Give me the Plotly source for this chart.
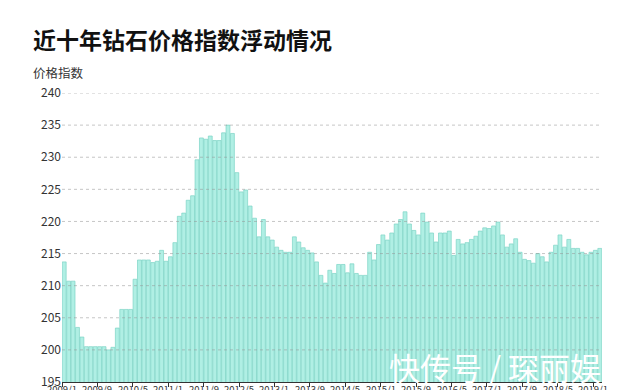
import plotly.graph_objects as go

# monthly diamond price index
values = [
    213.7, 210.7, 210.7, 203.5, 202.0, 200.5, 200.5, 200.5, 200.5, 200.5,
    200.0, 200.4, 203.4, 206.3, 206.3, 206.3, 211.0, 214.0, 214.0, 214.0,
    213.6, 213.8, 215.5, 213.8, 214.5, 216.7, 220.8, 221.3, 223.3, 224.0,
    229.6, 233.0, 232.8, 233.3, 232.6, 232.6, 233.8, 235.0, 233.7, 227.6,
    224.6, 224.9, 222.4, 220.5, 217.6, 220.3, 217.6, 217.1, 216.0, 215.5,
    215.2, 215.2, 217.6, 216.8, 215.9, 215.5, 215.1, 213.7, 211.6, 210.4,
    212.4, 211.9, 213.3, 213.3, 212.0, 213.4, 211.9, 211.6, 211.6, 215.2,
    214.0, 216.4, 217.9, 217.1, 218.2, 219.6, 220.3, 221.5, 219.6, 218.6,
    217.9, 221.3, 219.9, 218.2, 216.8, 218.2, 218.2, 218.5, 214.7, 217.2,
    216.5, 216.7, 217.2, 217.7, 218.5, 219.0, 218.9, 219.3, 219.9, 217.9,
    216.0, 216.5, 217.3, 215.2, 214.1, 213.9, 213.5, 215.0, 214.5, 213.7,
    215.2, 216.3, 217.9, 216.0, 217.2, 215.8, 215.8, 215.2, 214.8, 215.2,
    215.5, 215.8,
]

# category labels: months starting 2009/1
months = []
y, m = 2009, 1
for _ in range(len(values)):
    months.append(f"{y}/{m}")
    m += 1
    if m > 12:
        m = 1
        y += 1

tick_every = 8
tick_positions = [i - 0.5 for i in range(0, len(values), tick_every)]
tick_labels = [months[i] for i in range(0, len(values), tick_every)]

y_ticks = [195, 200, 205, 210, 215, 220, 225, 230, 235, 240]

title_text = "近十年钻石价格指数浮动情况"
y_title = "价格指数"
watermark = "快传号 / 琛丽娱"

FONT = "Noto Sans CJK SC, Noto Sans, sans-serif"

fig = go.Figure()
fig.add_trace(go.Bar(
    x=list(range(len(values))),
    y=values,
    base=0,
    marker=dict(color="#b0efe4", line=dict(color="#7dd4c6", width=0.7)),
    hovertext=months,
))

fig.update_layout(
    width=640, height=390,
    margin=dict(l=62, r=38, t=93, b=8, autoexpand=False),
    paper_bgcolor="white", plot_bgcolor="white",
    bargap=0.12,
    showlegend=False,
    font=dict(family=FONT, color="#333333", size=12),
    xaxis=dict(
        range=[-0.5, len(values) - 0.5],
        tickmode="array", tickvals=tick_positions, ticktext=tick_labels,
        showticklabels=False,
        ticks="outside", ticklen=4, tickcolor="#333", tickwidth=1,
        showline=True, linecolor="#333", linewidth=1,
        showgrid=False, zeroline=False,
        automargin=False,
        layer="above traces",
    ),
    yaxis=dict(
        range=[195, 240],
        tickmode="array", tickvals=y_ticks,
        showgrid=False,
        zeroline=False, showline=False, ticks="",
        tickfont=dict(size=12, color="#333"),
        automargin=False,
    ),
)

# dashed grid lines drawn over the bars (as in the reference)
for v in y_ticks[1:]:
    fig.add_shape(type="line", xref="paper", yref="y", x0=0, x1=1, y0=v, y1=v,
                  line=dict(color="rgba(150,150,150,0.55)", width=1, dash="3px,3px"),
                  layer="above")

plot_w, plot_h = 540, 390 - 93 - 8
def px(x):
    return (x - 62) / plot_w
def py(y):
    return (390 - 8 - y) / plot_h

# x tick labels (cut off at the bottom edge, as in the reference)
for pos, lab in zip(tick_positions, tick_labels):
    fig.add_annotation(text=lab, xref="x", yref="paper", x=pos, y=py(381),
                       xanchor="center", yanchor="top", showarrow=False,
                       borderpad=0,
                       font=dict(size=9.5, color="#333333", family=FONT))

fig.add_annotation(text=title_text, xref="paper", yref="paper",
                   x=px(31), y=py(39), xanchor="left", yanchor="middle",
                   showarrow=False,
                   font=dict(size=23, color="#111111", family=FONT, weight="bold"))
fig.add_annotation(text=y_title, xref="paper", yref="paper",
                   x=px(31), y=py(72), xanchor="left", yanchor="middle",
                   showarrow=False, font=dict(size=12.5, color="#333333", family=FONT))
fig.add_annotation(text=watermark, xref="paper", yref="paper",
                   x=px(603), y=py(366), xanchor="right", yanchor="middle",
                   showarrow=False, font=dict(size=31, color="white", family=FONT))

fig.write_html("out.html")
